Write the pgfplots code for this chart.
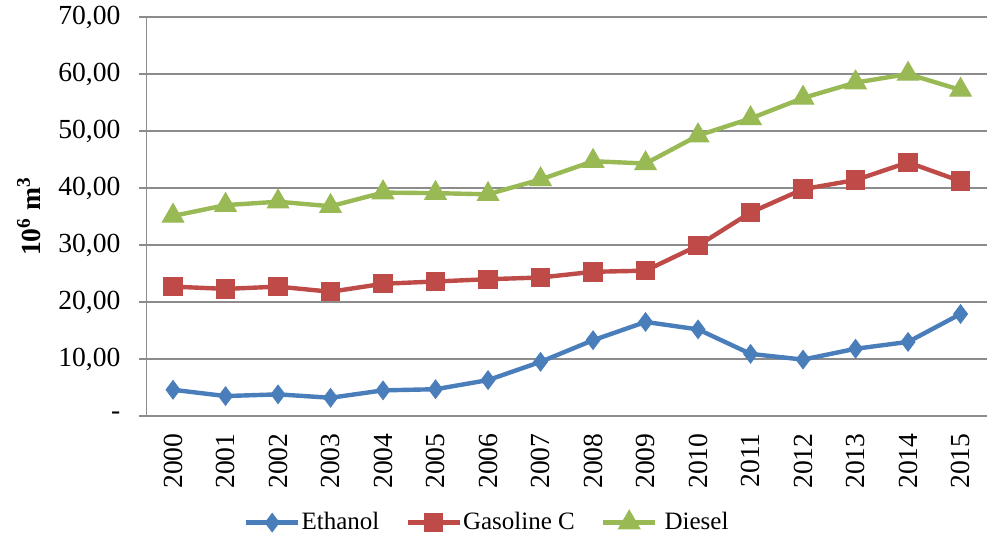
\documentclass[border=0pt]{standalone}
\usepackage{pgfplots}
\pgfplotsset{compat=1.18}
\usepackage{fontspec}
\setmainfont{Liberation Serif}
\definecolor{eth}{HTML}{4A7EBB}
\definecolor{gas}{HTML}{BE4B48}
\definecolor{die}{HTML}{98B954}
\definecolor{gridc}{HTML}{8C8C8C}
\newcommand{\fs}{\fontsize{12.5}{15}\selectfont}
\newcommand{\ft}{\fontsize{13.8}{16}\selectfont}
\begin{document}
\begin{tikzpicture}[font=\fs]
\useasboundingbox (-73.4pt,-61pt) rectangle (421.6pt,208pt);
\begin{axis}[
  scale only axis,
  width=420pt, height=199.5pt,
  anchor=south west, at={(0,0)},
  font=\fs,
  xmin=-0.5, xmax=15.5,
  ymin=0, ymax=70,
  axis lines=left,
  axis line style={-, draw=gridc, line width=0.7pt},
  ymajorgrids,
  grid style={draw=gridc, line width=0.7pt},
  xtick={0,...,15},
  xticklabels={2000,2001,2002,2003,2004,2005,2006,2007,2008,2009,2010,2011,2012,2013,2014,2015},
  xticklabel style={font=\ft, rotate=90, anchor=east, inner sep=0pt, xshift=-4.5pt},
  x tick style={draw=none},
  ytick={0,10,...,70},
  yticklabels={-,{10,00},{20,00},{30,00},{40,00},{50,00},{60,00},{70,00}},
  yticklabel style={font=\ft, anchor=east, inner sep=0pt, xshift=-9pt},
  tick align=outside,
  y tick style={draw=gridc, line width=0.7pt},
  major tick length=4pt,
  ylabel={\textbf{10\textsuperscript{6} m\textsuperscript{3}}},
  ylabel style={font=\ft, at={(axis description cs:-0.1405,0.5)}, anchor=center},
  legend style={font=\fs, at={(0.115,0)}, anchor=west, yshift=-53pt, draw=none, fill=none,
    legend columns=-1, inner sep=0pt, nodes={inner sep=0.5pt},
    /tikz/every odd column/.append style={column sep=0pt},
    /tikz/every even column/.append style={column sep=12.5pt}},
  legend image code/.code={%
    \draw[#1, mark=none] (0cm,0cm) -- (0.92cm,0cm);
    \draw[#1, only marks] plot coordinates {(0.46cm,0cm)};},
]
\addplot[eth, line width=2.2pt, mark=diamond*, mark size=4.6pt, mark options={solid, line width=0.5pt, fill=eth}]
 coordinates {(0,4.6)(1,3.5)(2,3.8)(3,3.2)(4,4.5)(5,4.7)(6,6.3)(7,9.5)(8,13.3)(9,16.5)(10,15.2)(11,10.9)(12,9.9)(13,11.8)(14,13.0)(15,17.9)};
\addlegendentry{Ethanol}
\addplot[gas, line width=2.2pt, mark=square*, mark size=4.6pt, mark options={solid, line width=0.5pt, fill=gas}]
 coordinates {(0,22.7)(1,22.3)(2,22.7)(3,21.8)(4,23.2)(5,23.6)(6,24.0)(7,24.3)(8,25.3)(9,25.5)(10,29.9)(11,35.7)(12,39.8)(13,41.4)(14,44.5)(15,41.2)};
\addlegendentry{Gasoline C}
\addplot[die, line width=2.2pt, mark=triangle*, mark size=6.2pt, mark options={solid, line width=0.5pt, fill=die}]
 coordinates {(0,35.1)(1,37.0)(2,37.6)(3,36.8)(4,39.2)(5,39.1)(6,38.9)(7,41.5)(8,44.7)(9,44.3)(10,49.2)(11,52.2)(12,55.8)(13,58.5)(14,60.0)(15,57.2)};
\addlegendentry{\hspace{3pt}Diesel}
\end{axis}
\end{tikzpicture}
\end{document}
